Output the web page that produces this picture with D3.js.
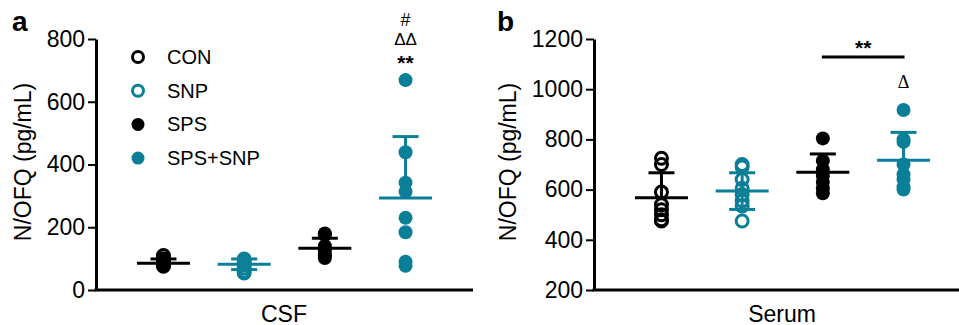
<!DOCTYPE html>
<meta charset="utf-8">
<style>
body { margin: 0; background: #fff; }
svg, svg text { font-family: "Liberation Sans", Arial, sans-serif; }
.axis path, .axis line { stroke: #000; }
</style>
<body>
<script src="https://d3js.org/d3.v7.min.js"></script>
<script>
// groups and their look
var groups = ["CON", "SNP", "SPS", "SPS+SNP"];
var groupColor = ["#000000", "#0b7f98", "#000000", "#0b7f98"];
var groupFilled = [false, false, true, true];
// which side of the error bar shows
var errorSide = ["up", "both", "up", "up"];

// panel a, CSF
var csfTicks = [0, 200, 400, 600, 800];
var csfPoints = [
  [76, 80, 85, 92, 100, 110],
  [54, 60, 70, 80, 88, 94, 99],
  [102, 108, 115, 125, 140, 175, 180],
  [77, 90, 184, 230, 313, 342, 439, 669]
];
var csfMean = [85, 82, 133, 293];
var csfSD = [14, 17, 32, 196];

// panel b, serum
var serumTicks = [200, 400, 600, 800, 1000, 1200];
var serumPoints = [
  [475, 480, 500, 520, 540, 590, 700, 725],
  [475, 535, 555, 580, 605, 640, 690, 700],
  [585, 605, 630, 655, 680, 715, 804],
  [600, 610, 640, 660, 700, 790, 800, 917]
];
var serumMean = [568, 594, 669, 717];
var serumSD = [99, 73, 73, 111];

var svg = d3.select("body").append("svg")
  .attr("width", 959).attr("height", 325);

function drawPanel(opt) {
  var g = svg.append("g");
  var y = d3.scaleLinear().domain(opt.domain).range([290, 39]);
  var x = d3.scalePoint().domain(groups).range([opt.left, opt.left + 377]).padding(0.836);

  // y axis
  var ya = g.append("g").attr("class", "axis")
    .attr("transform", "translate(" + opt.left + ",0)")
    .call(d3.axisLeft(y).tickValues(opt.ticks).tickFormat(d3.format("d"))
      .tickSize(8).tickSizeOuter(0).tickPadding(3));
  ya.attr("font-family", null).attr("font-size", null);
  ya.selectAll(".tick text").style("font-size", "23px").style("fill", "#000")
    .style("font-family", "'Liberation Sans', Arial, sans-serif");
  ya.select(".domain").attr("stroke-width", 3);
  ya.selectAll(".tick line").attr("stroke-width", 2);

  // x axis, no ticks
  var xa = g.append("g").attr("class", "axis")
    .attr("transform", "translate(0,290)")
    .call(d3.axisBottom(x).tickValues([]).tickSizeOuter(0));
  xa.select(".domain").attr("stroke-width", 3).attr("d", "M" + (opt.left - 1.5) + ",0H" + (opt.left + 377));

  g.append("text")
    .attr("transform", "translate(" + opt.titleX + ",162) rotate(-90)")
    .attr("text-anchor", "middle").attr("dominant-baseline", "central")
    .style("font-size", "23px").text("N/OFQ (pg/mL)");

  g.append("text").attr("x", opt.left + 188).attr("y", 322)
    .attr("text-anchor", "middle").style("font-size", "23px").text(opt.title);

  g.append("text").attr("x", opt.labelX).attr("y", 31)
    .style("font-size", "28px").style("font-weight", "bold").text(opt.label);

  // points
  groups.forEach(function(grp, i) {
    g.append("g").selectAll("circle").data(opt.points[i]).join("circle")
      .attr("cx", x(grp)).attr("cy", d => y(d))
      .attr("r", groupFilled[i] ? 7 : 6)
      .attr("fill", groupFilled[i] ? groupColor[i] : "none")
      .attr("stroke", groupFilled[i] ? "none" : groupColor[i])
      .attr("stroke-width", 3);
  });

  // mean and SD
  groups.forEach(function(grp, i) {
    var cx = x(grp), m = opt.mean[i], s = opt.sd[i];
    var top = m + s, bot = errorSide[i] == "both" ? m - s : m;
    var eg = g.append("g").attr("stroke", groupColor[i]).attr("stroke-width", 3);
    eg.append("line").attr("x1", cx).attr("x2", cx).attr("y1", y(top)).attr("y2", y(bot));
    eg.append("line").attr("x1", cx - 13).attr("x2", cx + 13).attr("y1", y(top)).attr("y2", y(top));
    if (errorSide[i] == "both")
      eg.append("line").attr("x1", cx - 13).attr("x2", cx + 13).attr("y1", y(bot)).attr("y2", y(bot));
    eg.append("line").attr("x1", cx - 26.5).attr("x2", cx + 26.5).attr("y1", y(m)).attr("y2", y(m));
  });

  return { g: g, x: x, y: y };
}

var pa = drawPanel({ left: 96, domain: [0, 800], ticks: csfTicks, points: csfPoints,
  mean: csfMean, sd: csfSD, title: "CSF", label: "a", labelX: 12, titleX: 23 });
var pb = drawPanel({ left: 594, domain: [200, 1200], ticks: serumTicks, points: serumPoints,
  mean: serumMean, sd: serumSD, title: "Serum", label: "b", labelX: 497, titleX: 508 });

// legend
var lg = pa.g.append("g");
groups.forEach(function(grp, i) {
  var ly = 57 + i * 33.7;
  lg.append("circle").attr("cx", 138).attr("cy", ly)
    .attr("r", groupFilled[i] ? 6.5 : 5.5)
    .attr("fill", groupFilled[i] ? groupColor[i] : "none")
    .attr("stroke", groupFilled[i] ? "none" : groupColor[i])
    .attr("stroke-width", 3);
  lg.append("text").attr("x", 167).attr("y", ly).attr("dominant-baseline", "central")
    .style("font-size", "20px").text(grp);
});

// significance marks, panel a
var sx = pa.x("SPS+SNP");
pa.g.append("text").attr("x", sx).attr("y", 20).attr("text-anchor", "middle")
  .attr("dominant-baseline", "central").style("font-size", "18px").text("#");
pa.g.append("text").attr("x", sx).attr("y", 39).attr("text-anchor", "middle")
  .attr("dominant-baseline", "central").style("font-size", "17px").text("ΔΔ");
pa.g.append("text").attr("x", sx).attr("y", 62).attr("text-anchor", "middle")
  .attr("dominant-baseline", "central").style("font-size", "21px").style("font-weight", "bold").text("**");

// significance marks, panel b
var bx1 = pb.x("SPS"), bx2 = pb.x("SPS+SNP");
pb.g.append("line").attr("x1", bx1 - 1).attr("x2", bx2 + 1).attr("y1", 57).attr("y2", 57)
  .attr("stroke", "#000").attr("stroke-width", 3);
pb.g.append("text").attr("x", (bx1 + bx2) / 2).attr("y", 47).attr("text-anchor", "middle")
  .attr("dominant-baseline", "central").style("font-size", "21px").style("font-weight", "bold").text("**");
pb.g.append("text").attr("x", bx2).attr("y", 82).attr("text-anchor", "middle")
  .attr("dominant-baseline", "central").style("font-size", "18px")
  .style("font-family", "Liberation Serif, serif").text("Δ");
</script>
</body>
